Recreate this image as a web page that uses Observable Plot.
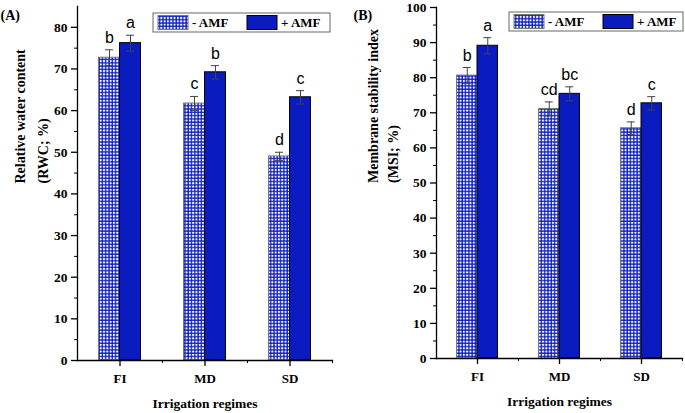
<!DOCTYPE html>
<html>
<head>
<meta charset="utf-8">
<script src="https://cdn.jsdelivr.net/npm/d3@7"></script>
<script src="https://cdn.jsdelivr.net/npm/@observablehq/plot@0.6"></script>
<style>
  body { margin: 0; background: white; }
  #wrap { display: flex; width: 685px; height: 413px; }
</style>
</head>
<body>
<div id="wrap"><div id="chartA"></div><div id="chartB"></div></div>
<script>
// values
const regimes = ["FI", "MD", "SD"];
const groups = ["- AMF", "+ AMF"];

const rwcMinus = [72.7, 61.7, 49.0];
const rwcMinusSe = [1.9, 1.7, 1.0];
const rwcMinusLetters = ["b", "c", "d"];
const rwcPlus = [76.2, 69.2, 63.2];
const rwcPlusSe = [1.9, 1.6, 1.6];
const rwcPlusLetters = ["a", "b", "c"];

const msiMinus = [80.6, 71.1, 65.6];
const msiMinusSe = [2.3, 2.0, 1.8];
const msiMinusLetters = ["b", "cd", "d"];
const msiPlus = [89.1, 75.4, 72.7];
const msiPlusSe = [2.3, 2.0, 1.9];
const msiPlusLetters = ["a", "bc", "c"];

const rwcTicks = [0, 10, 20, 30, 40, 50, 60, 70, 80];
const msiTicks = [0, 10, 20, 30, 40, 50, 60, 70, 80, 90, 100];

const blue = "#0a1bbf";
const serif = "'Liberation Serif', 'Times New Roman', serif";

function rows(minus, minusSe, minusL, plus, plusSe, plusL) {
  let out = [];
  regimes.forEach((r, i) => {
    out.push({regime: r, group: groups[0], value: minus[i], se: minusSe[i], letter: minusL[i]});
    out.push({regime: r, group: groups[1], value: plus[i], se: plusSe[i], letter: plusL[i]});
  });
  return out;
}

function panel(o) {
  const data = rows(...o.series);
  const bw = (o.width - o.ml - o.mr) / 3;
  const half = bw / 2;
  const barW = o.barW;
  const minus = data.filter(d => d.group == groups[0]);
  const plus = data.filter(d => d.group == groups[1]);
  const minor = o.ticks.slice(0, -1).map(t => t + 5).filter(t => t < o.ymax);
  const pid = "chk" + o.id;

  const defs = () => {
    const g = d3.create("svg:defs");
    const p = g.append("pattern").attr("id", pid).attr("patternUnits", "userSpaceOnUse")
      .attr("width", 3.3).attr("height", 3.3);
    p.append("rect").attr("width", 3.3).attr("height", 3.3).attr("fill", blue);
    p.append("rect").attr("x", 0.75).attr("y", 0.75).attr("width", 2).attr("height", 2).attr("fill", "white");
    return g.node();
  };

  const legend = (index, scales, values, dim) => {
    const right = dim.width - dim.marginRight + o.legRight;
    const g = d3.create("svg:g").attr("transform", `translate(${right - o.legW},${o.legTop})`);
    g.append("rect").attr("width", o.legW).attr("height", 19).attr("fill", "white")
      .attr("stroke", "#666").attr("stroke-width", 1);
    const items = [{x: 5, fill: `url(#${pid})`, stroke: "#777"}, {x: 94, fill: blue, stroke: "black"}];
    items.forEach((it, i) => {
      g.append("rect").attr("x", it.x).attr("y", 2.5).attr("width", 30).attr("height", 14)
        .attr("fill", it.fill).attr("stroke", it.stroke);
      g.append("text").attr("x", it.x + 34).attr("y", 9.5).attr("dy", "0.35em")
        .attr("text-anchor", "start").attr("font-family", serif)
        .attr("font-size", 13).attr("font-weight", "bold").attr("fill", "black").text(groups[i]);
    });
    return g.node();
  };

  return Plot.plot({
    width: o.width,
    height: 413,
    marginLeft: o.ml,
    marginRight: o.mr,
    marginTop: o.mt,
    marginBottom: o.mb,
    x: {domain: regimes, padding: 0},
    y: {domain: [0, o.ymax]},
    style: {fontFamily: serif, fontWeight: "bold", fontSize: "13px", color: "black", background: "white"},
    marks: [
      defs,
      Plot.barY(minus, {x: "regime", y: "value", fill: `url(#${pid})`, stroke: "#777", strokeWidth: 1,
        insetLeft: half - barW, insetRight: half}),
      Plot.barY(plus, {x: "regime", y: "value", fill: blue, stroke: "black", strokeWidth: 1,
        insetLeft: half, insetRight: half - barW}),
      Plot.ruleX(minus, {x: "regime", y1: d => d.value - d.se, y2: d => d.value + d.se, dx: -barW / 2, stroke: "#444"}),
      Plot.ruleX(plus, {x: "regime", y1: d => d.value - d.se, y2: d => d.value + d.se, dx: barW / 2, stroke: "#444"}),
      Plot.tickY(minus, {x: "regime", y: d => d.value + d.se, stroke: "#444",
        insetLeft: half - barW / 2 - 4, insetRight: half + barW / 2 - 4}),
      Plot.tickY(minus, {x: "regime", y: d => d.value - d.se, stroke: "#444",
        insetLeft: half - barW / 2 - 4, insetRight: half + barW / 2 - 4}),
      Plot.tickY(plus, {x: "regime", y: d => d.value + d.se, stroke: "#444",
        insetLeft: half + barW / 2 - 4, insetRight: half - barW / 2 - 4}),
      Plot.tickY(plus, {x: "regime", y: d => d.value - d.se, stroke: "#444",
        insetLeft: half + barW / 2 - 4, insetRight: half - barW / 2 - 4}),
      Plot.text(minus, {x: "regime", y: d => d.value + d.se, text: "letter", dx: -barW / 2, dy: -7,
        lineAnchor: "bottom", fontFamily: "Liberation Sans", fontWeight: "normal", fontSize: 16}),
      Plot.text(plus, {x: "regime", y: d => d.value + d.se, text: "letter", dx: barW / 2, dy: -7,
        lineAnchor: "bottom", fontFamily: "Liberation Sans", fontWeight: "normal", fontSize: 16}),
      Plot.frame({anchor: "left", strokeWidth: 1.3}),
      Plot.frame({anchor: "bottom", strokeWidth: 1.3}),
      Plot.axisY({ticks: o.ticks, tickSize: 6, tickPadding: 4, label: null, strokeWidth: 1.3, fontSize: 13.5}),
      Plot.axisY({ticks: minor, tickSize: 3, tickFormat: () => "", label: null}),
      Plot.axisX({tickSize: 6, tickPadding: 7, label: null, strokeWidth: 1.3, fontSize: 13}),
      Plot.ruleX(["MD", "SD"], {x: d => d, y1: 0, y2: 0, dx: -half, insetBottom: -3}),
      Plot.ruleX(["SD"], {x: d => d, y1: 0, y2: 0, dx: half, insetBottom: -3}),
      Plot.text([o.ylabel], {frameAnchor: "left", rotate: -90, dx: o.ylabDx, lineHeight: o.ylabLH,
        lineAnchor: "middle", fontSize: 14}),
      Plot.text(["Irrigation regimes"], {frameAnchor: "bottom", dy: 43, lineAnchor: "middle", fontSize: 13.5}),
      Plot.text([o.tag], {frameAnchor: "top-left", dx: o.tagDx, dy: o.tagDy, textAnchor: "start",
        lineAnchor: "middle", fontSize: 14}),
      legend
    ]
  });
}

const chartA = panel({
  id: "A", tag: "(A)", width: 340, ml: 77, mr: 8, mt: 6, mb: 53, ymax: 85, barW: 21,
  series: [rwcMinus, rwcMinusSe, rwcMinusLetters, rwcPlus, rwcPlusSe, rwcPlusLetters],
  ticks: rwcTicks, ylabel: "Relative water content\n(RWC; %)", ylabDx: -48.5, ylabLH: 1.65,
  tagDx: -77, tagDy: 9, legW: 177, legTop: 13, legRight: -2
});
const chartB = panel({
  id: "B", tag: "(B)", width: 345, ml: 96, mr: 3, mt: 7, mb: 55, ymax: 100, barW: 20.5,
  series: [msiMinus, msiMinusSe, msiMinusLetters, msiPlus, msiPlusSe, msiPlusLetters],
  ticks: msiTicks, ylabel: "Membrane stability index\n(MSI; %)", ylabDx: -55, ylabLH: 1.45,
  tagDx: -83, tagDy: 8, legW: 174, legTop: 12, legRight: 1
});

d3.select("#chartA").append(() => chartA);
d3.select("#chartB").append(() => chartB);
</script>
</body>
</html>
